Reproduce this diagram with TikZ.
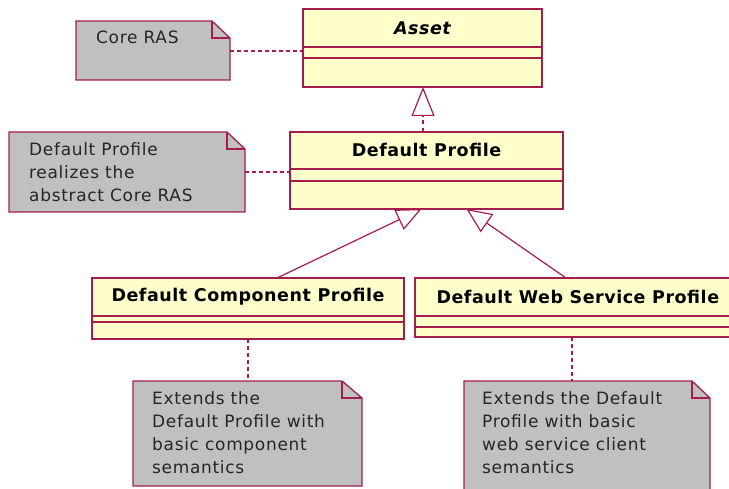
\documentclass[tikz,border=0pt]{standalone}
\usepackage{fontspec}
\setmainfont{DejaVu Sans}
\usetikzlibrary{arrows.meta}
\definecolor{umlline}{RGB}{165,30,75}
\definecolor{umlfill}{RGB}{255,255,204}
\definecolor{notefill}{RGB}{192,192,192}
\tikzset{
  cls/.style={draw=umlline, fill=umlfill, line width=1.3pt, outer sep=0pt, inner sep=0pt},
  clsline/.style={draw=umlline, line width=1.3pt},
  clsname/.style={font=\fontsize{17.5}{20}\selectfont\bfseries\addfontfeature{LetterSpace=3}, text=black},
  noteanchor/.style={outer sep=0pt, inner sep=0pt},
  notebody/.style={draw=umlline, fill=notefill, line width=1.3pt},
  notetext/.style={font=\fontsize{17}{23}\selectfont\addfontfeature{LetterSpace=4}, text=black!85, align=left, anchor=north west, inner sep=0pt},
  notelink/.style={draw=umlline, line width=1.3pt, dash pattern=on 4pt off 3pt},
  gen/.style={draw=umlline, line width=1.2pt, -{Triangle[open, length=25pt, width=22pt, fill=white]}},
  real/.style={draw=umlline, line width=1.2pt, dash pattern=on 4pt off 4pt, -{Triangle[open, length=29pt, width=23pt, fill=white]}}
}
\begin{document}
\begin{tikzpicture}[x=1pt,y=-1pt]
\useasboundingbox (0,0) rectangle (729,489);
\clip (0,0) rectangle (729,489);
\fill[white] (0,0) rectangle (729,489);

% Asset
\node[cls, minimum width=239, minimum height=78] (asset) at (422.5,48) {};
\node[clsname] (assetname) at (422.5,28) {\itshape Asset};
\draw[clsline] (asset.west |- 0,47) -- (asset.east |- 0,47);
\draw[clsline] (asset.west |- 0,58) -- (asset.east |- 0,58);

% Default Profile
\node[cls, minimum width=273, minimum height=77] (dp) at (426.5,170.5) {};
\node[clsname] (dpname) at (426.5,150) {Default Profile};
\draw[clsline] (dp.west |- 0,169) -- (dp.east |- 0,169);
\draw[clsline] (dp.west |- 0,181) -- (dp.east |- 0,181);

% Default Component Profile
\node[cls, minimum width=312, minimum height=61] (comp) at (248,308.5) {};
\node[clsname] (compname) at (248,297) {Default Component Profile};
\draw[clsline] (comp.west |- 0,316) -- (comp.east |- 0,316);
\draw[clsline] (comp.west |- 0,322) -- (comp.east |- 0,322);

% Default Web Service Profile
\node[cls, minimum width=320, minimum height=59] (web) at (575,307.5) {};
\node[clsname, anchor=west] (webname) at (433,297) {Default Web Service Profile};
\draw[clsline] (web.west |- 0,316) -- (web.east |- 0,316);
\draw[clsline] (web.west |- 0,327) -- (web.east |- 0,327);

% Note: Core RAS
\node[noteanchor, minimum width=154, minimum height=59] (n1) at (153,50.5) {};
\draw[notebody] (n1.south west) -- (n1.north west) -- ([xshift=-18pt]n1.north east)
  -- ([yshift=-17pt]n1.north east) -- (n1.south east) -- cycle;
\draw[clsline] ([xshift=-18pt]n1.north east) -- ([xshift=-18pt,yshift=-17pt]n1.north east) -- ([yshift=-17pt]n1.north east);
\node[notetext] (n1t) at (96,31) {Core RAS};

% Note: Default Profile realizes
\node[noteanchor, minimum width=236, minimum height=80] (n2) at (127,172) {};
\draw[notebody] (n2.south west) -- (n2.north west) -- ([xshift=-18pt]n2.north east)
  -- ([yshift=-17pt]n2.north east) -- (n2.south east) -- cycle;
\draw[clsline] ([xshift=-18pt]n2.north east) -- ([xshift=-18pt,yshift=-17pt]n2.north east) -- ([yshift=-17pt]n2.north east);
\node[notetext] (n2t) at (29,142) {Default Profile\\realizes the\\abstract Core RAS};

% Note: component
\node[noteanchor, minimum width=229, minimum height=105] (n3) at (247.5,433.5) {};
\draw[notebody] (n3.south west) -- (n3.north west) -- ([xshift=-20pt]n3.north east)
  -- ([yshift=-17pt]n3.north east) -- (n3.south east) -- cycle;
\draw[clsline] ([xshift=-20pt]n3.north east) -- ([xshift=-20pt,yshift=-17pt]n3.north east) -- ([yshift=-17pt]n3.north east);
\node[notetext] (n3t) at (152,391) {Extends the\\Default Profile with\\basic component\\semantics};

% Note: web service
\node[noteanchor, minimum width=246, minimum height=120] (n4) at (587,441) {};
\draw[notebody] (n4.south west) -- (n4.north west) -- ([xshift=-18pt]n4.north east)
  -- ([yshift=-17pt]n4.north east) -- (n4.south east) -- cycle;
\draw[clsline] ([xshift=-18pt]n4.north east) -- ([xshift=-18pt,yshift=-17pt]n4.north east) -- ([yshift=-17pt]n4.north east);
\node[notetext] (n4t) at (482,391) {Extends the Default\\Profile with basic\\web service client\\semantics};

% Note links
\draw[notelink] (n1.east |- 0,51) -- (asset.west |- 0,51);
\draw[notelink] (n2.east |- 0,172) -- (dp.west |- 0,172);
\draw[notelink] (comp.south -| 248,0) -- (n3.north -| 248,0);
\draw[notelink] (web.south -| 572,0) -- (n4.north -| 572,0);

% Realization and generalizations
\draw[real] (dp.north -| 423,0) -- (asset.south -| 423,0);
\draw[gen] ([xshift=29pt]comp.north) -- ([xshift=-5pt]dp.south);
\draw[gen] ([xshift=-9pt]web.north) -- ([xshift=40pt]dp.south);
\end{tikzpicture}
\end{document}
